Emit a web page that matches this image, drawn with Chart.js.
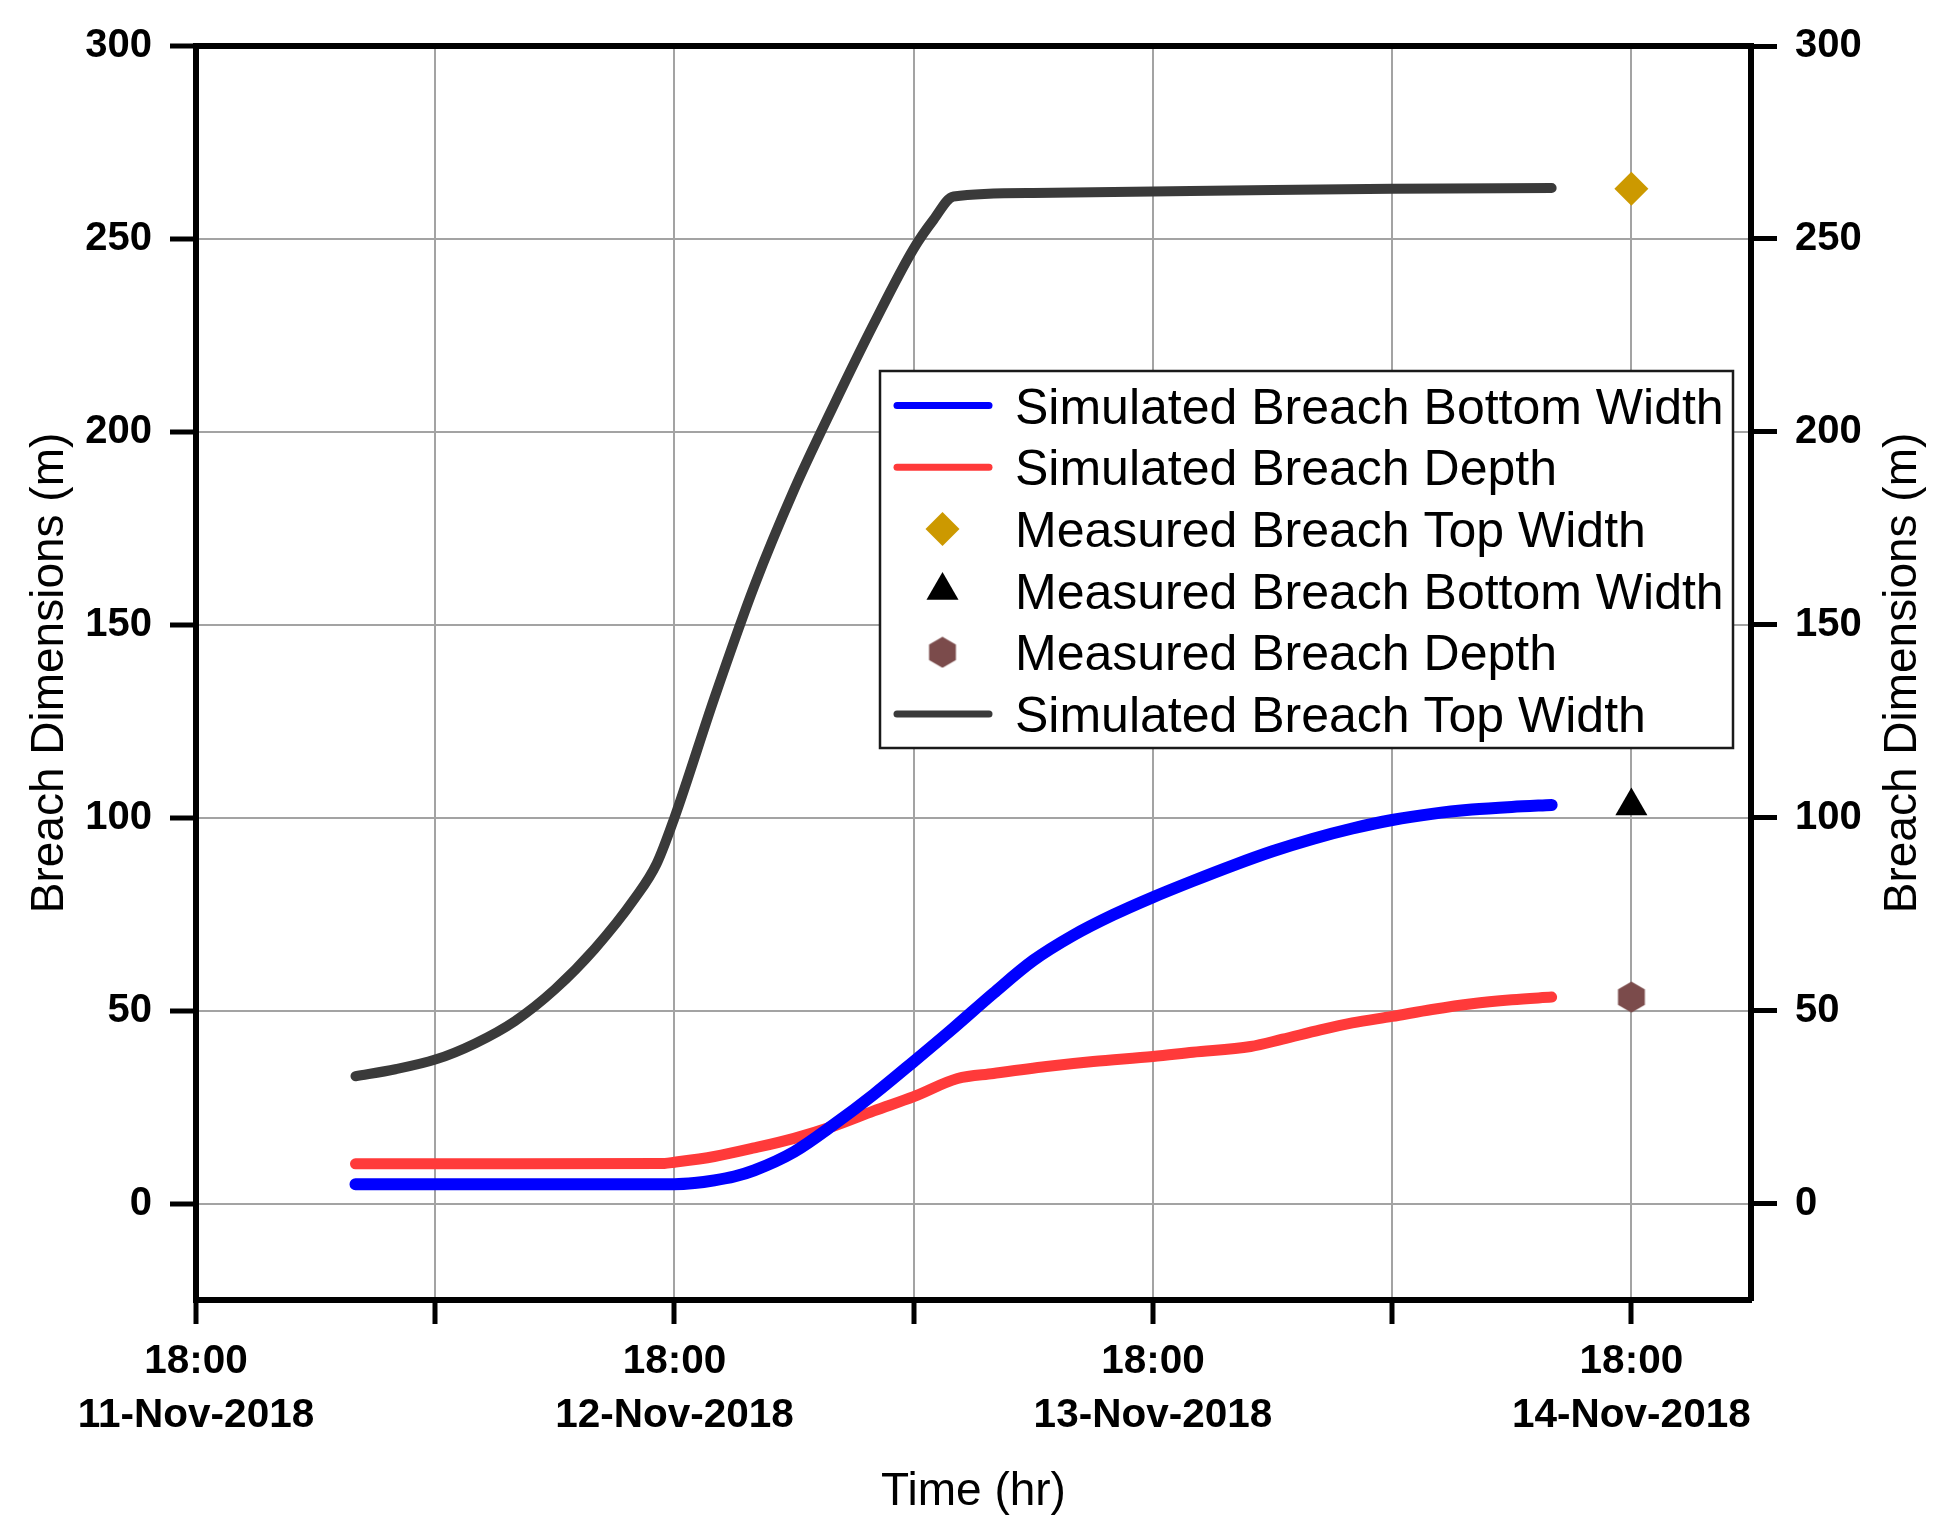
<!DOCTYPE html>
<html>
<head>
<meta charset="utf-8">
<title>Breach Dimensions</title>
<script src="https://cdn.jsdelivr.net/npm/chart.js@4.4.1/dist/chart.umd.min.js"></script>
<style>
  html, body { margin: 0; padding: 0; background: #fff; }
  #wrap { width: 1954px; height: 1534px; }
</style>
</head>
<body>
<div id="wrap"><canvas id="breachChart" width="1954" height="1534"></canvas></div>
<script>
// time is hours since 18:00 11-Nov-2018
const topTime = [8, 10, 12, 14, 16, 18, 20, 22, 23.1, 24, 26, 28, 30, 32, 34, 36, 37, 38, 42, 48, 54, 60, 68];
const topWidth = [33, 34.8, 37.3, 41.5, 47.3, 55.5, 66, 79, 88, 100, 131, 160, 185, 207, 228, 247.5, 255, 261, 261.9, 262.3, 262.7, 263, 263.2];

const bottomTime = [8, 16, 24, 25, 26, 27, 28, 30, 32, 34, 36, 38, 40, 42, 44, 46, 48, 50, 52, 54, 56, 58, 60, 62, 64, 66, 68];
const bottomWidth = [5, 5, 5, 5.3, 6, 7, 8.6, 13.4, 20.5, 28.3, 36.8, 45.5, 54.5, 63, 69.5, 74.8, 79.4, 83.6, 87.6, 91.3, 94.5, 97.2, 99.4, 101, 102.1, 102.8, 103.3];

const depthTime = [8, 16, 23.5, 24, 26, 28, 30, 32, 34, 36, 38.2, 40, 42.66, 45, 48, 50, 52.9, 54.5, 56.4, 58, 60, 62, 64, 66, 68];
const depth = [10.3, 10.3, 10.4, 10.7, 12.2, 14.4, 16.9, 20.1, 24, 27.7, 32.4, 33.7, 35.5, 36.8, 38.1, 39.2, 40.7, 42.6, 45, 46.8, 48.5, 50.3, 51.8, 52.8, 53.5];

const measuredTime = [72];
const measuredTop = [263];
const measuredBottom = [103];
const measuredDepth = [53.5];

const xTicks = [0, 12, 24, 36, 48, 60, 72];
const xTickLabels = [['18:00', '11-Nov-2018'], '', ['18:00', '12-Nov-2018'], '', ['18:00', '13-Nov-2018'], '', ['18:00', '14-Nov-2018']];
const yTicks = [0, 50, 100, 150, 200, 250, 300];

const FONT = '"Liberation Sans", Arial, sans-serif';

function toPoints(xs, ys) {
    return xs.map((x, i) => ({ x: x, y: ys[i] }));
}

function makeHexagon(color) {
    const c = document.createElement('canvas');
    c.width = 30;
    c.height = 32;
    const g = c.getContext('2d');
    g.fillStyle = color;
    g.beginPath();
    for (let k = 0; k < 6; k++) {
        const ang = -Math.PI / 2 + k * Math.PI / 3;
        const px = 15 + 15.5 * Math.cos(ang);
        const py = 16 + 15.5 * Math.sin(ang);
        if (k === 0) g.moveTo(px, py); else g.lineTo(px, py);
    }
    g.closePath();
    g.fill();
    return c;
}

// top border, right axis title and the boxed legend
const framePlugin = {
    id: 'frame',
    afterDraw(chart) {
        const { ctx, chartArea: a } = chart;
        ctx.save();
        ctx.strokeStyle = '#000';
        ctx.lineWidth = 6;
        ctx.beginPath();
        ctx.moveTo(a.left - 3, a.top);
        ctx.lineTo(a.right + 3, a.top);
        ctx.stroke();

        ctx.fillStyle = '#000';
        ctx.font = '46px ' + FONT;
        ctx.textAlign = 'center';
        ctx.textBaseline = 'middle';
        ctx.translate(chart.width - 51, (a.top + a.bottom) / 2);
        ctx.rotate(-Math.PI / 2);
        ctx.fillText('Breach Dimensions (m)', 0, 0);
        ctx.restore();

        // legend
        const box = { x: 880, y: 371, w: 853, h: 377 };
        ctx.save();
        ctx.fillStyle = '#fff';
        ctx.fillRect(box.x, box.y, box.w, box.h);
        ctx.strokeStyle = '#1a1a1a';
        ctx.lineWidth = 2.5;
        ctx.strokeRect(box.x, box.y, box.w, box.h);
        ctx.font = '50px ' + FONT;
        ctx.textAlign = 'left';
        ctx.textBaseline = 'alphabetic';
        chart.data.datasets.forEach((ds, i) => {
            const cy = box.y + 34.5 + i * 61.7;
            if (ds.showLine === false) {
                ctx.fillStyle = ds.pointBackgroundColor;
                Chart.helpers.drawPoint(ctx, {
                    pointStyle: ds.pointStyle,
                    radius: ds.pointRadius,
                    rotation: 0,
                    borderWidth: 0
                }, box.x + 62.5, cy);
            } else {
                ctx.strokeStyle = ds.borderColor;
                ctx.lineWidth = 7;
                ctx.lineCap = 'round';
                ctx.beginPath();
                ctx.moveTo(box.x + 17, cy);
                ctx.lineTo(box.x + 109, cy);
                ctx.stroke();
            }
            ctx.fillStyle = '#000';
            ctx.fillText(ds.label, box.x + 135, cy + 18);
        });
        ctx.restore();
    }
};

function lineSet(label, xs, ys, color, width) {
    return {
        label: label,
        data: toPoints(xs, ys),
        borderColor: color,
        backgroundColor: color,
        borderWidth: width,
        borderCapStyle: 'round',
        borderJoinStyle: 'round',
        pointRadius: 0,
        cubicInterpolationMode: 'monotone'
    };
}

function markerSet(label, ys, style, radius, color) {
    return {
        label: label,
        data: toPoints(measuredTime, ys),
        showLine: false,
        pointStyle: style,
        pointRadius: radius,
        pointHoverRadius: radius,
        pointBackgroundColor: color,
        pointBorderColor: color,
        pointBorderWidth: 0
    };
}

function initBreachChart() {
    const ctx = document.getElementById('breachChart');
    if (!ctx || typeof Chart === 'undefined') return;

    new Chart(ctx, {
        type: 'line',
        data: {
            datasets: [
                lineSet('Simulated Breach Bottom Width', bottomTime, bottomWidth, '#0000ff', 12),
                lineSet('Simulated Breach Depth', depthTime, depth, '#ff3a3a', 11),
                markerSet('Measured Breach Top Width', measuredTop, 'rectRot', 17, '#cc9900'),
                markerSet('Measured Breach Bottom Width', measuredBottom, 'triangle', 18.5, '#000000'),
                markerSet('Measured Breach Depth', measuredDepth, makeHexagon('#7b4b4b'), 15, '#7b4b4b'),
                lineSet('Simulated Breach Top Width', topTime, topWidth, '#3a3a3a', 10)
            ]
        },
        options: {
            responsive: false,
            animation: false,
            layout: { padding: { top: 46, left: 0, right: 0, bottom: 0 } },
            plugins: {
                legend: { display: false },
                tooltip: { enabled: false }
            },
            scales: {
                x: {
                    type: 'linear',
                    min: 0,
                    max: 78,
                    afterBuildTicks: s => { s.ticks = xTicks.map(v => ({ value: v })); },
                    afterFit: s => { s.height = 234; },
                    ticks: {
                        autoSkip: false,
                        maxRotation: 0,
                        color: '#000',
                        padding: 11,
                        font: { family: FONT, size: 40.5, weight: 'bold', lineHeight: 1.33 },
                        callback: v => {
                            const i = xTicks.indexOf(v);
                            return i >= 0 ? xTickLabels[i] : '';
                        }
                    },
                    grid: { color: '#a3a3a3', lineWidth: 2, tickColor: '#000', tickWidth: 5, tickLength: 24 },
                    border: { color: '#000', width: 6 },
                    title: {
                        display: true,
                        text: 'Time (hr)',
                        color: '#000',
                        font: { family: FONT, size: 46 },
                        padding: { top: 0, bottom: 14.5 }
                    }
                },
                y: {
                    position: 'left',
                    min: -25,
                    max: 300,
                    afterBuildTicks: s => { s.ticks = yTicks.map(v => ({ value: v })); },
                    afterFit: s => { s.width = 196; },
                    ticks: {
                        color: '#000',
                        padding: 18,
                        font: { family: FONT, size: 40, weight: 'bold' }
                    },
                    grid: { color: '#a3a3a3', lineWidth: 2, tickColor: '#000', tickWidth: 5, tickLength: 26 },
                    border: { color: '#000', width: 6 },
                    title: {
                        display: true,
                        text: 'Breach Dimensions (m)',
                        color: '#000',
                        font: { family: FONT, size: 46 },
                        padding: { top: 22.4, bottom: 0 }
                    }
                },
                y2: {
                    position: 'right',
                    min: -25,
                    max: 300,
                    afterBuildTicks: s => { s.ticks = yTicks.map(v => ({ value: v })); },
                    afterFit: s => { s.width = 203; },
                    ticks: {
                        color: '#000',
                        padding: 18,
                        font: { family: FONT, size: 40, weight: 'bold' }
                    },
                    grid: { drawOnChartArea: false, tickColor: '#000', tickWidth: 5, tickLength: 26 },
                    border: { color: '#000', width: 6 }
                }
            }
        },
        plugins: [framePlugin]
    });
}

initBreachChart();
</script>
</body>
</html>
